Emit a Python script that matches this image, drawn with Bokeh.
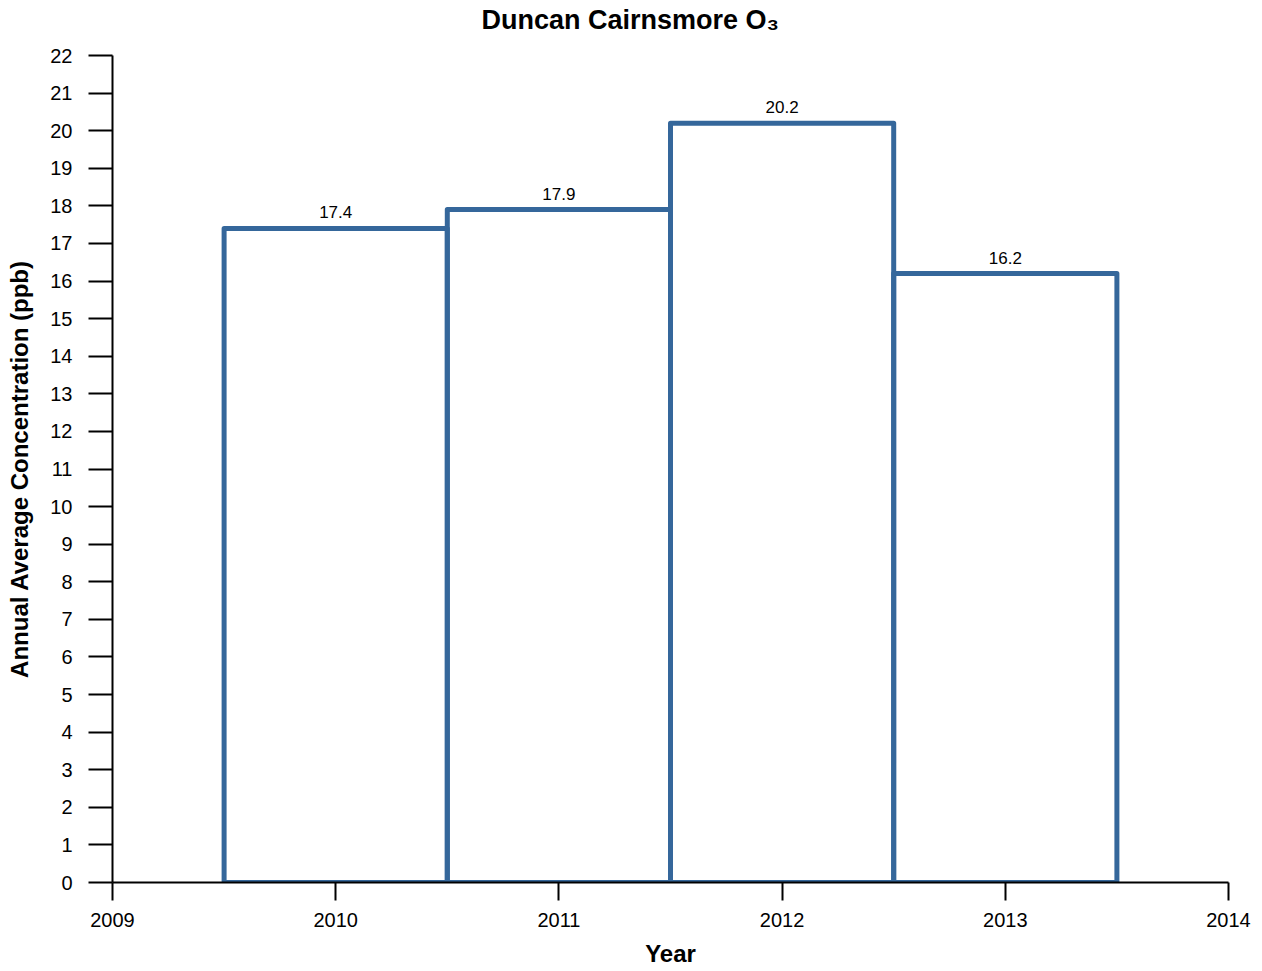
from bokeh.plotting import figure
from bokeh.models import ColumnDataSource, Range1d, FixedTicker, Title
from bokeh.embed import file_html
from bokeh.resources import INLINE

years = [2010, 2011, 2012, 2013]
values = [17.4, 17.9, 20.2, 16.2]
labels = ["17.4", "17.9", "20.2", "16.2"]
x_ticks = [2009, 2010, 2011, 2012, 2013, 2014]
y_ticks = list(range(0, 23))
title_text = "Duncan Cairnsmore O₃"

src = ColumnDataSource(dict(
    left=[y - 0.5 for y in years],
    right=[y + 0.5 for y in years],
    top=values,
    bottom=[0] * len(years),
    x=years,
    lab=labels,
))

FONT = "Liberation Sans"
COL = "#35679b"

p = figure(title=None, width=1254, height=969, output_backend="svg", toolbar_location=None,
           x_range=Range1d(2009, 2014), y_range=Range1d(0, 22),
           min_border_left=112, min_border_right=26, min_border_top=55, min_border_bottom=87)

# spacer between frame and title (closest to the frame), then the title itself
spacer = Title(text=" ", text_font=FONT, text_font_size="12px", standoff=5)
main_title = Title(text=title_text, align="left", offset=369, text_font=FONT,
                   text_font_size="27px", text_font_style="bold", text_color="black",
                   standoff=0, vertical_align="bottom")
p.add_layout(spacer, "above")
p.add_layout(main_title, "above")

p.xgrid.visible = False
p.ygrid.visible = False
p.outline_line_color = None

p.quad(left="left", right="right", top="top", bottom="bottom", source=src,
       fill_color=None, line_color=COL, line_width=5, line_join="round")
p.text(x="x", y="top", text="lab", source=src, text_align="center", text_baseline="bottom",
       y_offset=-10, text_font_size="17px", text_color="black", text_font={"value": FONT})

for ax in (p.xaxis[0], p.yaxis[0]):
    ax.axis_line_width = 2
    ax.axis_line_color = "black"
    ax.major_tick_line_width = 2
    ax.major_tick_line_color = "black"
    ax.major_tick_in = 0
    ax.minor_tick_line_color = None
    ax.major_label_text_font = FONT
    ax.major_label_text_font_size = "20px"
    ax.major_label_text_color = "black"
    ax.axis_label_text_font = FONT
    ax.axis_label_text_font_size = "24px"
    ax.axis_label_text_font_style = "bold"
    ax.axis_label_text_color = "black"

p.xaxis.ticker = FixedTicker(ticks=x_ticks)
p.yaxis.ticker = FixedTicker(ticks=y_ticks)
p.xaxis.major_tick_out = 18
p.yaxis.major_tick_out = 24
p.xaxis.major_label_standoff = 12
p.yaxis.major_label_standoff = 16
p.xaxis.axis_label = "Year"
p.yaxis.axis_label = "Annual Average Concentration (ppb)"
p.xaxis.axis_label_standoff = 10
p.yaxis.axis_label_standoff = 14

open("out.html", "w").write(file_html(p, INLINE))
